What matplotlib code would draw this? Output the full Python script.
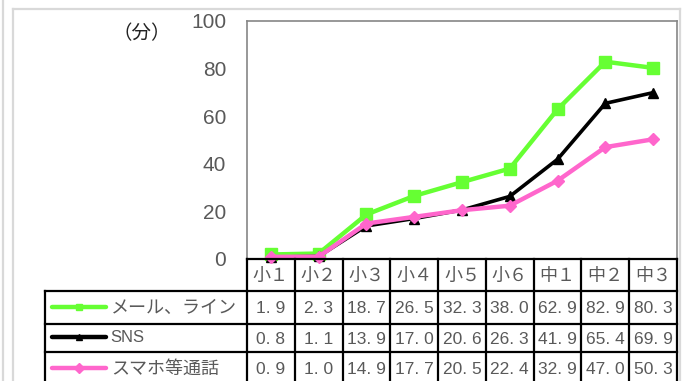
import matplotlib.pyplot as plt
from matplotlib.lines import Line2D

# 通信時間（分）
grades = ["小１", "小２", "小３", "小４", "小５", "小６", "中１", "中２", "中３"]
mail_line = [1.9, 2.3, 18.7, 26.5, 32.3, 38.0, 62.9, 82.9, 80.3]
sns = [0.8, 1.1, 13.9, 17.0, 20.6, 26.3, 41.9, 65.4, 69.9]
phone_call = [0.9, 1.0, 14.9, 17.7, 20.5, 22.4, 32.9, 47.0, 50.3]

series_names = ["メール、ライン", "SNS", "スマホ等通話"]
series_colors = ["#66FF33", "#000000", "#FF66CC"]
series_markers = ["s", "^", "D"]

W, H = 689, 381
JP = ["Noto Sans CJK JP", "DejaVu Sans"]
LATIN = ["Liberation Sans", "DejaVu Sans"]
TEXT_GRAY = "#595959"


def fx(px):
    return px / W


def fy(py):
    return 1 - py / H


fig = plt.figure(figsize=(W / 100, H / 100), dpi=100)

# plot area
left, right, top, bottom = 247, 677, 21, 259
ax = fig.add_axes([fx(left), fy(bottom), fx(right - left), fy(top) - fy(bottom)])

series = [mail_line, sns, phone_call]
widths = [3.2, 2.6, 3.2]
msizes = [9, 7, 6.5]
x = range(len(grades))
for vals, name, c, m, lw, ms in zip(series, series_names, series_colors, series_markers, widths, msizes):
    ax.plot(x, vals, color=c, lw=lw, marker=m, markersize=ms, label=name,
            solid_joinstyle="miter", clip_on=False)

ax.set_xlim(-0.5, len(grades) - 0.5)
ax.set_ylim(0, 100)
ax.set_yticks(range(0, 101, 20))
ax.set_xticks([])
ax.tick_params(axis="y", length=0, pad=15, labelsize=15, labelcolor=TEXT_GRAY)
for lab in ax.get_yticklabels():
    lab.set_family(LATIN)
for side in ["top", "left", "right"]:
    ax.spines[side].set_color("#868686")
    ax.spines[side].set_linewidth(1.2)
ax.spines["bottom"].set_visible(False)

fig.text(fx(142), fy(34), "（分）", family=JP, fontsize=14, color="#222222",
         ha="center", va="center")

# outer chart frame
frame = dict(color="#d9d9d9", lw=1.6)
fig.add_artist(Line2D([fx(3), fx(3)], [0, 1], transform=fig.transFigure, **frame))
fig.add_artist(Line2D([fx(12.5), fx(12.5)], [0, fy(8.5)], transform=fig.transFigure, **frame))
fig.add_artist(Line2D([fx(12.5), fx(680)], [fy(8.5), fy(8.5)], transform=fig.transFigure, **frame))
fig.add_artist(Line2D([fx(680), fx(680)], [0, fy(8.5)], transform=fig.transFigure, **frame))

# data table
row_edges = [259, 291, 324, 352, 386]
label_left = 45
col_w = (right - left) / len(grades)
col_edges = [left + i * col_w for i in range(len(grades) + 1)]
grid = dict(color="black", lw=1.6, transform=fig.transFigure, clip_on=False)


def hline(y, x0, x1):
    fig.add_artist(Line2D([fx(x0), fx(x1)], [fy(y), fy(y)], **grid))


def vline(x0, y0, y1):
    fig.add_artist(Line2D([fx(x0), fx(x0)], [fy(y0), fy(y1)], **grid))


hline(row_edges[0], left, right)
for y in row_edges[1:]:
    hline(y, label_left, right)
for xe in col_edges:
    vline(xe, row_edges[0], row_edges[-1])
vline(label_left, row_edges[1], row_edges[-1])

for i, g in enumerate(grades):
    cx = (col_edges[i] + col_edges[i + 1]) / 2
    fig.text(fx(cx), fy((row_edges[0] + row_edges[1]) / 2 + 1), g, family=JP,
             fontsize=13, color=TEXT_GRAY, ha="center", va="center")

for r, (vals, name, c, m) in enumerate(zip(series, series_names, series_colors, series_markers)):
    cy = (row_edges[r + 1] + row_edges[r + 2]) / 2
    for i, v in enumerate(vals):
        cx = (col_edges[i] + col_edges[i + 1]) / 2
        fig.text(fx(cx), fy(cy + 1), f"{v:.1f}".replace(".", ". "), family=LATIN,
                 fontsize=12.5, color=TEXT_GRAY, ha="center", va="center")
    # legend key
    fig.add_artist(Line2D([fx(52), fx(106)], [fy(cy - 1), fy(cy - 1)], color=c,
                          lw=3.2, solid_capstyle="round", transform=fig.transFigure))
    fig.add_artist(Line2D([fx(79)], [fy(cy - 1)], color=c, marker=m, markersize=5,
                          transform=fig.transFigure))
    if name.isascii():
        fig.text(fx(110), fy(cy - 1), name, family=LATIN, fontsize=12,
                 color=TEXT_GRAY, ha="left", va="center")
    else:
        fig.text(fx(111), fy(cy), name, family=JP, fontsize=13,
                 color=TEXT_GRAY, ha="left", va="center")

fig.savefig("out.png", dpi=100)
